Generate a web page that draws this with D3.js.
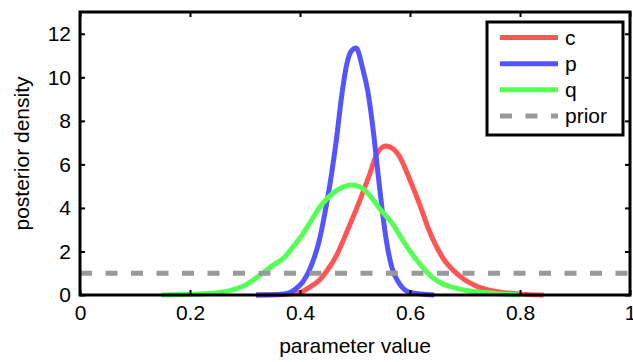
<!DOCTYPE html>
<html>
<head>
<meta charset="utf-8">
<script src="https://cdn.jsdelivr.net/npm/d3@7/dist/d3.min.js"></script>
<style>
  body { margin: 0; background: #fff; }
  svg { display: block; font-family: "Liberation Sans", Arial, sans-serif; }
</style>
</head>
<body>
<div id="chart"></div>
<script>
// posterior densities (x = parameter value)
var cX = [0.32, 0.37, 0.40, 0.42, 0.435, 0.45, 0.466, 0.486, 0.508, 0.526, 0.54, 0.556, 0.57, 0.58, 0.598, 0.617, 0.635, 0.659, 0.689, 0.725, 0.762, 0.80, 0.843];
var cY = [0, 0.02, 0.12, 0.4, 0.68, 1.15, 1.8, 2.95, 4.3, 5.5, 6.5, 6.85, 6.7, 6.4, 5.4, 4.2, 2.95, 1.73, 0.9, 0.36, 0.14, 0.04, 0];

var pX = [0.32, 0.36, 0.38, 0.393, 0.405, 0.417, 0.427, 0.435, 0.447, 0.457, 0.466, 0.475, 0.485, 0.493, 0.502, 0.514, 0.523, 0.532, 0.54, 0.549, 0.557, 0.567, 0.58, 0.60, 0.644];
var pY = [0, 0.02, 0.1, 0.3, 0.6, 1.14, 1.8, 2.5, 4.0, 5.5, 7.1, 9.0, 10.6, 11.2, 11.35, 10.4, 9.4, 7.8, 6.0, 4.0, 2.5, 1.27, 0.55, 0.12, 0];

var qX = [0.148, 0.2, 0.24, 0.272, 0.30, 0.332, 0.35, 0.372, 0.39, 0.405, 0.42, 0.435, 0.45, 0.465, 0.48, 0.493, 0.51, 0.526, 0.544, 0.568, 0.593, 0.617, 0.64, 0.66, 0.677, 0.70, 0.725, 0.76, 0.80];
var qY = [0, 0.03, 0.08, 0.2, 0.45, 1.0, 1.35, 1.73, 2.3, 2.8, 3.4, 4.0, 4.45, 4.77, 4.98, 5.05, 4.95, 4.6, 4.0, 3.27, 2.27, 1.45, 0.82, 0.5, 0.36, 0.22, 0.14, 0.06, 0];

var priorX = [0, 1];
var priorY = [1, 1];

var xTicks = [0, 0.2, 0.4, 0.6, 0.8, 1];
var yTicks = [0, 2, 4, 6, 8, 10, 12];

var seriesNames = ["c", "p", "q", "prior"];
var seriesColors = ["#ff5555", "#5555ff", "#55ff55", "#999999"];

var width = 633, height = 362;
var plotLeft = 80, plotRight = 630, plotTop = 12, plotBottom = 295;
var fontSize = "21px";

var svg = d3.select("#chart").append("svg")
    .attr("width", width)
    .attr("height", height);

var x = d3.scaleLinear().domain([0, 1]).range([plotLeft, plotRight]);
var y = d3.scaleLinear().domain([0, 13]).range([plotBottom, plotTop]);

// curves
var line = d3.line()
    .x(function(d) { return x(d[0]); })
    .y(function(d) { return y(d[1]); })
    .curve(d3.curveMonotoneX);

var allSeries = [
  d3.zip(cX, cY),
  d3.zip(pX, pY),
  d3.zip(qX, qY),
  d3.zip(priorX, priorY)
];

var plot = svg.append("g");
allSeries.forEach(function(pts, i) {
  plot.append("path")
    .attr("d", line(pts))
    .attr("fill", "none")
    .attr("stroke", seriesColors[i])
    .attr("stroke-width", 5)
    .attr("stroke-linejoin", "round")
    .attr("stroke-dasharray", i == 3 ? "12,13.5" : null);
});

// axes (ticks point inwards, mirrored on top and right)
var tickLen = 5;
svg.append("g")
    .attr("transform", "translate(0," + plotBottom + ")")
    .call(d3.axisBottom(x).tickValues(xTicks).tickSizeInner(-tickLen).tickSizeOuter(0).tickPadding(10)
      .tickFormat(function(d) { return d == 0 || d == 1 ? d3.format("d")(d) : d3.format(".1f")(d); }))
    .call(styleAxis);
svg.append("g")
    .attr("transform", "translate(0," + plotTop + ")")
    .call(d3.axisTop(x).tickValues(xTicks).tickSizeInner(-tickLen).tickSizeOuter(0).tickFormat(""))
    .call(styleAxis);
svg.append("g")
    .attr("transform", "translate(" + plotLeft + ",0)")
    .call(d3.axisLeft(y).tickValues(yTicks).tickSizeInner(-tickLen).tickSizeOuter(0).tickPadding(9))
    .call(styleAxis);
svg.append("g")
    .attr("transform", "translate(" + plotRight + ",0)")
    .call(d3.axisRight(y).tickValues(yTicks).tickSizeInner(-tickLen).tickSizeOuter(0).tickFormat(""))
    .call(styleAxis);

function styleAxis(g) {
  g.select(".domain").remove();
  g.attr("font-family", null).attr("font-size", null);
  g.selectAll(".tick line").attr("stroke", "#000").attr("stroke-width", 2);
  g.selectAll(".tick text").attr("fill", "#000").style("font-size", fontSize);
}

// frame
svg.append("rect")
    .attr("x", plotLeft).attr("y", plotTop)
    .attr("width", plotRight - plotLeft).attr("height", plotBottom - plotTop)
    .attr("fill", "none")
    .attr("stroke", "#000")
    .attr("stroke-width", 3);

// axis labels
svg.append("text")
    .attr("x", (plotLeft + plotRight) / 2)
    .attr("y", 353)
    .attr("text-anchor", "middle")
    .style("font-size", fontSize)
    .text("parameter value");
svg.append("text")
    .attr("transform", "translate(29," + (plotTop + plotBottom) / 2 + ") rotate(-90)")
    .attr("text-anchor", "middle")
    .style("font-size", fontSize)
    .text("posterior density");

// legend
var legend = svg.append("g");
legend.append("rect")
    .attr("x", 487).attr("y", 22)
    .attr("width", 136).attr("height", 113)
    .attr("fill", "#fff")
    .attr("stroke", "#000")
    .attr("stroke-width", 3);
var rowY = d3.scalePoint().domain(seriesNames).range([37.5, 116]);
seriesNames.forEach(function(name, i) {
  legend.append("line")
    .attr("x1", 500).attr("x2", 558)
    .attr("y1", rowY(name)).attr("y2", rowY(name))
    .attr("stroke", seriesColors[i])
    .attr("stroke-width", 5)
    .attr("stroke-dasharray", i == 3 ? "12,13.5" : null);
  legend.append("text")
    .attr("x", 565)
    .attr("y", rowY(name))
    .attr("dy", "0.35em")
    .style("font-size", fontSize)
    .text(name);
});
</script>
</body>
</html>
